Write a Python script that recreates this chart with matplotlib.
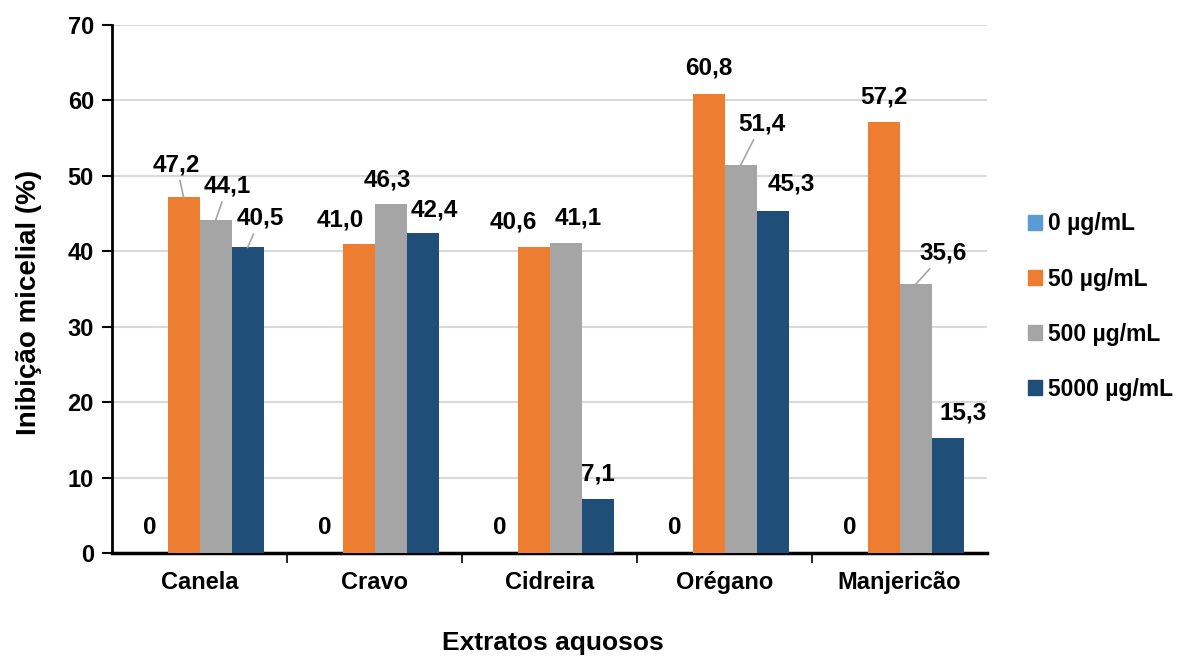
import matplotlib.pyplot as plt
from matplotlib.patches import Patch
import numpy as np

plt.rcParams['font.family'] = ['Liberation Sans', 'DejaVu Sans']
plt.rcParams['font.weight'] = 'bold'

extratos = ['Canela', 'Cravo', 'Cidreira', 'Orégano', 'Manjericão']
doses = ['0 µg/mL', '50 µg/mL', '500 µg/mL', '5000 µg/mL']
inib_0 = [0, 0, 0, 0, 0]
inib_50 = [47.2, 41.0, 40.6, 60.8, 57.2]
inib_500 = [44.1, 46.3, 41.1, 51.4, 35.6]
inib_5000 = [40.5, 42.4, 7.1, 45.3, 15.3]
series = [inib_0, inib_50, inib_500, inib_5000]
cores = ['#5b9bd5', '#ed7d31', '#a5a5a5', '#1f4e79']

# label offsets in pixels (dx, dy) from bar top, and whether a leader line is drawn
offsets = [
    [(-2, 25), (-2, 25), (-2, 25), (-2, 25), (-2, 25)],
    [(-7, 32), (-18, 24), (-20, 25), (0, 26), (0, 25)],
    [(12, 34), (-3, 24), (13, 25), (21, 41), (28, 31)],
    [(13, 29), (12, 23), (0, 25), (19, 27), (16, 25)],
]
leader = [
    [False] * 5,
    [True, False, False, False, False],
    [True, False, False, True, True],
    [True, False, False, False, False],
]

fig = plt.figure(figsize=(11.78, 6.57), dpi=100)
ax = fig.add_axes([0.0951, 0.1583, 0.7428, 0.8037])

x = np.arange(len(extratos))
w = 0.183
for i, vals in enumerate(series):
    pos = x + (i - 1.5) * w
    ax.bar(pos, vals, width=w, color=cores[i], zorder=3)
    for j, v in enumerate(vals):
        dx, dy = offsets[i][j]
        txt = f'{v:.1f}'.replace('.', ',') if v != 0 else '0'
        props = None
        if leader[i][j]:
            props = dict(arrowstyle='-', color='#a6a6a6', lw=1.2, shrinkA=1, shrinkB=0)
        ax.annotate(txt, xy=(pos[j], v), xytext=(dx, dy), textcoords='offset pixels',
                    ha='center', va='center', fontsize=17.5, fontweight='bold',
                    arrowprops=props, zorder=5)

ax.set_xlim(-0.5, len(extratos) - 0.5)
ax.set_ylim(0, 70)
ax.set_yticks(np.arange(0, 71, 10))
ax.tick_params(axis='y', labelsize=17, length=7, width=1.5, direction='out', pad=6)
ax.set_xticks(x)
ax.set_xticklabels(extratos, fontsize=17, fontweight='bold')
ax.tick_params(axis='x', length=0, pad=13)
ax.set_xticks(np.arange(0.5, len(extratos) - 0.5, 1), minor=True)
ax.tick_params(axis='x', which='minor', length=7, width=1.2, direction='out')

ax.grid(axis='y', color='#d9d9d9', lw=1.5, zorder=0)
ax.set_axisbelow(True)
for s in ['top', 'right']:
    ax.spines[s].set_visible(False)
ax.spines['left'].set_linewidth(2)
ax.spines['bottom'].set_linewidth(2.5)

fig.text(0.0246, 0.540, 'Inibição micelial (%)', rotation=90, ha='center', va='center',
         fontsize=20, fontweight='bold')
fig.text(0.469, 0.021, 'Extratos aquosos', ha='center', va='center', fontsize=19, fontweight='bold')

handles = [Patch(color=c, label=d) for c, d in zip(cores, doses)]
fig.legend(handles=handles, loc='upper left', bbox_to_anchor=(0.855, 0.708), frameon=False,
           handlelength=0.6, handleheight=0.6, handletextpad=0.27,
           labelspacing=1.40, prop={'weight': 'bold', 'size': 16.5})

fig.savefig('out.png', dpi=100)
